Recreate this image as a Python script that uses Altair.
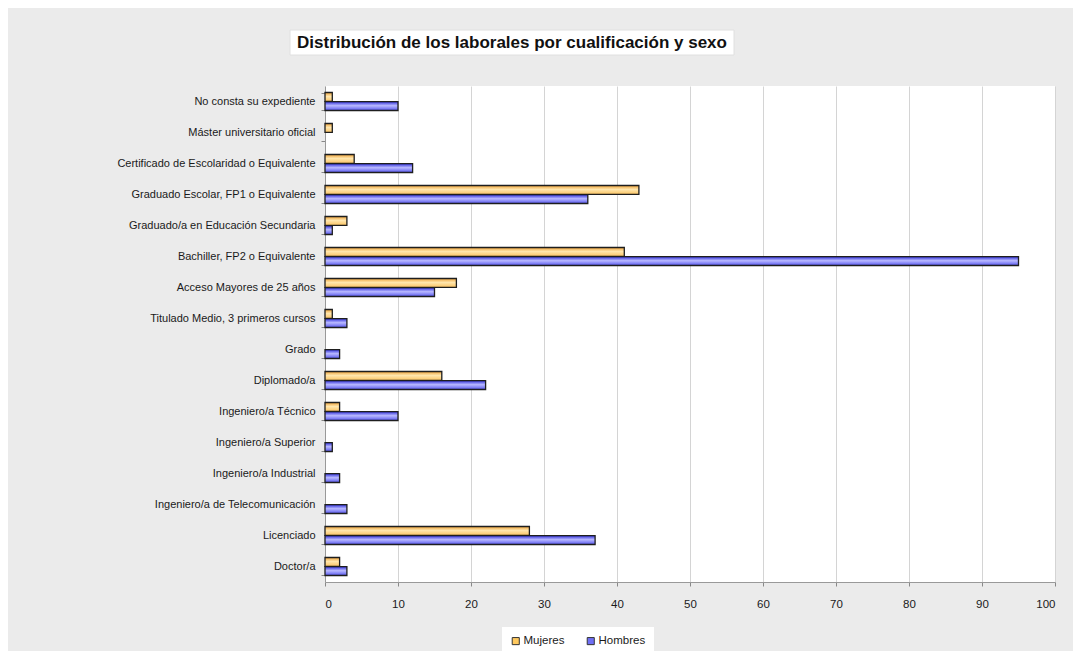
import altair as alt
import pandas as pd

categorias = [
    "No consta su expediente",
    "Máster universitario oficial",
    "Certificado de Escolaridad o Equivalente",
    "Graduado Escolar, FP1 o Equivalente",
    "Graduado/a en Educación Secundaria",
    "Bachiller, FP2 o Equivalente",
    "Acceso Mayores de 25 años",
    "Titulado Medio, 3 primeros cursos ",
    "Grado",
    "Diplomado/a",
    "Ingeniero/a Técnico",
    "Ingeniero/a Superior",
    "Ingeniero/a Industrial",
    "Ingeniero/a de Telecomunicación ",
    "Licenciado",
    "Doctor/a",
]
mujeres = [1, 1, 4, 43, 3, 41, 18, 1, 0, 16, 2, 0, 0, 0, 28, 2]
hombres = [10, 0, 12, 36, 1, 95, 15, 3, 2, 22, 10, 1, 2, 3, 37, 3]
series = ["Mujeres", "Hombres"]
colores = ["#ffc95e", "#6f6ff5"]
x_ticks = [0, 10, 20, 30, 40, 50, 60, 70, 80, 90, 100]
titulo = "Distribución de los laborales por cualificación y sexo"

rows = []
for c, m, h in zip(categorias, mujeres, hombres):
    rows.append({"cat": c, "sexo": series[0], "valor": m})
    rows.append({"cat": c, "sexo": series[1], "valor": h})
df = pd.DataFrame(rows)
df = df[df["valor"] > 0]

FONT = "Liberation Sans"
W, H = 730, 496

grad_m = alt.LinearGradient(gradient="linear", x1=0, x2=0, y1=0, y2=1, stops=[
    alt.GradientStop(offset=0, color="#eea33a"),
    alt.GradientStop(offset=0.45, color="#ffe6ad"),
    alt.GradientStop(offset=1, color="#fbc463"),
])
grad_h = alt.LinearGradient(gradient="linear", x1=0, x2=0, y1=0, y2=1, stops=[
    alt.GradientStop(offset=0, color="#3030dc"),
    alt.GradientStop(offset=0.45, color="#b9b9ff"),
    alt.GradientStop(offset=1, color="#5656ee"),
])

y_enc = alt.Y("cat:N", sort=categorias, title=None,
              scale=alt.Scale(domain=categorias, paddingInner=0.42, paddingOuter=0.21),
              axis=alt.Axis(labelFont=FONT, labelFontSize=11, labelColor="#1a1a1a",
                            labelPadding=6, tickSize=4, tickColor="#888", domainColor="#999",
                            tickBand="extent", grid=False, labelLimit=400))
yoff_enc = alt.YOffset("sexo:N", sort=series, scale=alt.Scale(domain=series, paddingInner=0.04))
x_enc = alt.X("valor:Q", title=None,
              scale=alt.Scale(domain=[0, 100], nice=False),
              axis=alt.Axis(values=x_ticks, labelFont=FONT, labelFontSize=11.5, labelColor="#1a1a1a",
                            tickSize=4, tickColor="#888", domainColor="#999", labelPadding=12,
                            grid=True, gridColor="#d4d4d4", gridWidth=1))

base = alt.Chart(df).encode(y=y_enc, yOffset=yoff_enc, x=x_enc)

bars_m = base.transform_filter(alt.datum.sexo == "Mujeres").mark_bar(
    fill=grad_m, stroke="#1e1e1e", strokeWidth=1.3)
bars_h = base.transform_filter(alt.datum.sexo == "Hombres").mark_bar(
    fill=grad_h, stroke="#1e1e1e", strokeWidth=1.3)

legend_layer = base.mark_point(shape="square", opacity=0, filled=True).encode(
    color=alt.Color("sexo:N", sort=series,
                    scale=alt.Scale(domain=series, range=colores),
                    legend=alt.Legend(title=None, orient="none", legendX=177, legendY=541,
                                      direction="horizontal", symbolType="square", symbolSize=50,
                                      symbolOpacity=1, symbolStrokeColor="#333", symbolStrokeWidth=1,
                                      labelFont=FONT, labelFontSize=11.5, labelColor="#1a1a1a",
                                      columnPadding=20, labelOffset=2,
                                      fillColor="white", padding=8))
)

title_box = alt.Chart(pd.DataFrame([{"t": titulo}])).mark_rect(
    fill="white", stroke="#e0e0e0", strokeWidth=1
).encode(
    x=alt.value(-35), x2=alt.value(409), y=alt.value(-56), y2=alt.value(-31)
)
title_text = alt.Chart(pd.DataFrame([{"t": titulo}])).mark_text(
    font=FONT, fontSize=17, fontWeight="bold", color="#111", align="center", baseline="middle"
).encode(
    x=alt.value(187), y=alt.value(-43), text="t:N"
)

chart = alt.layer(title_box, title_text, bars_m, bars_h, legend_layer).properties(
    width=W, height=H,
    autosize=alt.AutoSizeParams(type="none"),
    padding={"left": 317, "top": 78, "right": 18, "bottom": 69},
    background="#ebebeb",
).configure_view(fill="white", stroke=None)

chart.save("out.html", embed_options={"renderer": "svg", "actions": False})
